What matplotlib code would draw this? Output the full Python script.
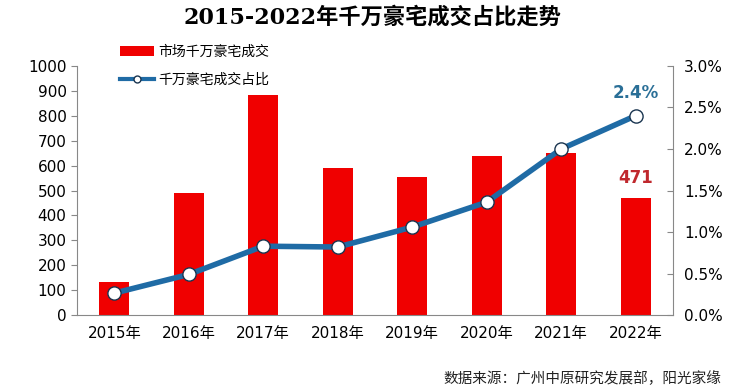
import matplotlib
matplotlib.use('Agg')
import matplotlib.pyplot as plt
import numpy as np

plt.rcParams['font.family'] = ['DejaVu Sans', 'Noto Sans CJK SC']

# 数据
years = ['2015年', '2016年', '2017年', '2018年', '2019年', '2020年', '2021年', '2022年']
volume = [133, 490, 884, 590, 554, 639, 651, 471]
share = [0.265, 0.49, 0.83, 0.82, 1.06, 1.36, 2.0, 2.4]

bar_color = '#F00000'
line_color = '#1F6BA5'

fig = plt.figure(figsize=(7.44, 3.92), dpi=100)
ax = fig.add_axes([0.1035, 0.196, 0.801, 0.636])
x = np.arange(len(years))

ax.bar(x, volume, width=0.4, color=bar_color, label='市场千万豪宅成交', zorder=2)
ax.set_ylim(0, 1000)
ax.set_yticks(range(0, 1001, 100))
ax.set_xlim(-0.5, len(years) - 0.5)
ax.set_xticks(x)
ax.set_xticklabels(years, fontsize=11, family=['DejaVu Sans', 'Noto Sans CJK SC'])
ax.tick_params(axis='y', labelsize=11, direction='out', length=4, color='#888888')
ax.tick_params(axis='x', length=0, pad=8)
for s in ['top', 'right']:
    ax.spines[s].set_visible(False)
for s in ['left', 'bottom']:
    ax.spines[s].set_color('#888888')

ax2 = ax.twinx()
ax2.plot(x, share, color=line_color, lw=4, marker='o', markersize=9.5,
         markerfacecolor='white', markeredgecolor='#1a3550', markeredgewidth=1,
         label='千万豪宅成交占比', zorder=3)
ax2.set_ylim(0, 3.0)
ax2.set_yticks(np.arange(0, 3.01, 0.5))
ax2.set_yticklabels([f'{v:.1f}%' for v in np.arange(0, 3.01, 0.5)])
ax2.tick_params(axis='y', labelsize=11, direction='in', length=4, color='#888888', pad=8)
for s in ['top', 'left', 'bottom']:
    ax2.spines[s].set_visible(False)
ax2.spines['right'].set_color('#888888')

# 数据标签
ax.annotate(str(volume[-1]), (x[-1], volume[-1]), xytext=(0, 8), textcoords='offset points',
            ha='center', va='bottom', fontsize=12, fontweight='bold', color='#C0282D')
ax2.annotate(f'{share[-1]:.1f}%', (x[-1], share[-1]), xytext=(0, 10), textcoords='offset points',
             ha='center', va='bottom', fontsize=12, fontweight='bold', color='#2A6F97')

# 图例
h1, l1 = ax.get_legend_handles_labels()
h2, l2 = ax2.get_legend_handles_labels()
leg = fig.legend(h1 + h2, l1 + l2, loc='upper left', bbox_to_anchor=(0.145, 0.918),
                 frameon=False, handlelength=2.4, handletextpad=0.3, labelspacing=1.0,
                 prop={'family': ['Noto Sans CJK SC'], 'size': 10})
leg.legend_handles[1].set_markersize(5)
leg.legend_handles[1].set_linewidth(3)

fig.text(0.5, 0.955, '2015-2022年千万豪宅成交占比走势', ha='center', va='center',
         fontsize=16, fontweight='bold', family=['DejaVu Serif', 'Noto Sans CJK SC'])
fig.text(0.97, 0.035, '数据来源：广州中原研究发展部，阳光家缘', ha='right', va='center',
         fontsize=10.5, family=['Noto Sans CJK SC'], color='#222222')

fig.savefig('out.png', dpi=100)
